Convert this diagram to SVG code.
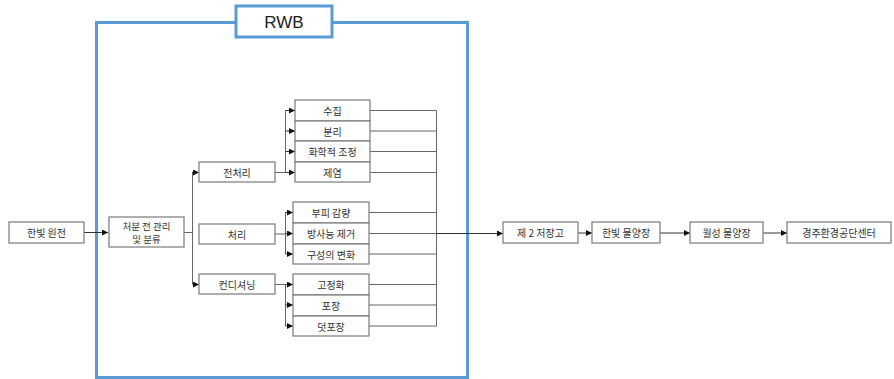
<svg xmlns="http://www.w3.org/2000/svg" width="894" height="379" viewBox="0 0 894 379">
<defs>
<marker id="ah" markerWidth="6" markerHeight="6" refX="6" refY="3" orient="auto" markerUnits="userSpaceOnUse">
<path d="M0,0 L6,3 L0,6 z" fill="#111"/>
</marker>
<style>
.box{fill:#fff;stroke:#7a7a7a;stroke-width:1.2}
.t{font-family:"Noto Sans CJK KR","Noto Sans",sans-serif;font-size:10px;fill:#333;text-anchor:middle;dominant-baseline:central}
.s{font-size:9.5px}
.c{fill:none;stroke:#666;stroke-width:1}
.a{fill:none;stroke:#333;stroke-width:1;marker-end:url(#ah)}
.blue{fill:none;stroke:#5b9bd5;stroke-width:3}
</style>
</defs>
<rect width="894" height="379" fill="#fff"/>
<g id="rwb">
<rect class="blue" x="96.5" y="22.5" width="371" height="355"/>
<rect x="236" y="6" width="96" height="31" fill="#fff" stroke="#5b9bd5" stroke-width="3"/>
<text x="284" y="22" font-family="'Liberation Sans',sans-serif" font-size="17" fill="#222" text-anchor="middle" dominant-baseline="central">RWB</text>
</g>
<g id="connectors">
<path class="a" d="M84,232.5 H108"/>
<path class="c" d="M184,232.5 H192.5"/>
<path class="c" d="M192.5,172 V284"/>
<path class="a" d="M192.5,172.5 H199"/>
<path class="a" d="M192.5,284.5 H199"/>
<path class="c" d="M275,172.5 H285.5 M285.5,110.5 V172.5"/>
<path class="a" d="M285.5,110.5 H295"/>
<path class="a" d="M285.5,131 H295"/>
<path class="a" d="M285.5,151.5 H295"/>
<path class="a" d="M285.5,172.5 H295"/>
<path class="c" d="M275,234 H285.5 M285.5,212.5 V254"/>
<path class="a" d="M285.5,212.5 H293"/>
<path class="a" d="M285.5,233.5 H293"/>
<path class="a" d="M285.5,254 H293"/>
<path class="c" d="M275,284.5 H285.5 M285.5,284.5 V326"/>
<path class="a" d="M285.5,284.5 H293"/>
<path class="a" d="M285.5,305 H293"/>
<path class="a" d="M285.5,326 H293"/>
<path class="c" d="M370,110.5 H436.5 M370,131 H436.5 M370,151.5 H436.5 M370,172.5 H436.5 M369,212.5 H436.5 M369,254 H436.5 M369,284.5 H436.5 M369,305 H436.5 M369,326 H436.5 M436.5,110.5 V326"/>
<path class="c" d="M369,233.5 H436.5"/>
<path class="a" d="M436.5,233.5 H503" stroke="#111" stroke-width="1.3"/>
<path class="a" d="M578,233 H592"/>
<path class="a" d="M660,233 H690"/>
<path class="a" d="M763,233 H787"/>
</g>
<g id="n-hanbit"><rect class="box" x="9" y="222" width="75" height="21"/><text class="t" x="46.5" y="232.5">한빛 원전</text></g>
<g id="n-pre-mgmt"><rect class="box" x="109" y="217" width="75" height="30"/><text class="t s" x="146.5" y="225.5">처분 전 관리</text><text class="t s" x="146.5" y="238.5">및 분류</text></g>
<g id="n-pretreat"><rect class="box" x="199" y="162" width="76" height="20"/><text class="t" x="237" y="172">전처리</text></g>
<g id="n-treat"><rect class="box" x="199" y="224" width="76" height="20"/><text class="t" x="237" y="234">처리</text></g>
<g id="n-cond"><rect class="box" x="199" y="274" width="76" height="20"/><text class="t" x="237" y="284">컨디셔닝</text></g>
<g id="n-collect"><rect class="box" x="295" y="100" width="75" height="21"/><text class="t" x="332.5" y="110.5">수집</text></g>
<g id="n-separate"><rect class="box" x="295" y="121" width="75" height="20"/><text class="t" x="332.5" y="131">분리</text></g>
<g id="n-chem"><rect class="box" x="295" y="141" width="75" height="21"/><text class="t" x="332.5" y="151.5">화학적 조정</text></g>
<g id="n-decon"><rect class="box" x="295" y="162" width="75" height="20"/><text class="t" x="332.5" y="172">제염</text></g>
<g id="n-volred"><rect class="box" x="293" y="202" width="76" height="21"/><text class="t" x="331" y="212.5">부피 감량</text></g>
<g id="n-radrem"><rect class="box" x="293" y="223" width="76" height="21"/><text class="t" x="331" y="233.5">방사능 제거</text></g>
<g id="n-compchg"><rect class="box" x="293" y="244" width="76" height="20"/><text class="t" x="331" y="254">구성의 변화</text></g>
<g id="n-solid"><rect class="box" x="293" y="274" width="76" height="21"/><text class="t" x="331" y="284.5">고정화</text></g>
<g id="n-pack"><rect class="box" x="293" y="295" width="76" height="21"/><text class="t" x="331" y="305.5">포장</text></g>
<g id="n-overpack"><rect class="box" x="293" y="316" width="76" height="20"/><text class="t" x="331" y="326">덧포장</text></g>
<g id="n-storage2"><rect class="box" x="503" y="222" width="75" height="21"/><text class="t" x="540.5" y="232.5">제 2 저장고</text></g>
<g id="n-hanbit-port"><rect class="box" x="592" y="222" width="68" height="21"/><text class="t" x="626" y="232.5">한빛 물양장</text></g>
<g id="n-wolsong-port"><rect class="box" x="690" y="222" width="73" height="21"/><text class="t" x="726.5" y="232.5">월성 물양장</text></g>
<g id="n-gyeongju"><rect class="box" x="787" y="222" width="104" height="21"/><text class="t" x="839" y="232.5">경주환경공단센터</text></g>
</svg>
